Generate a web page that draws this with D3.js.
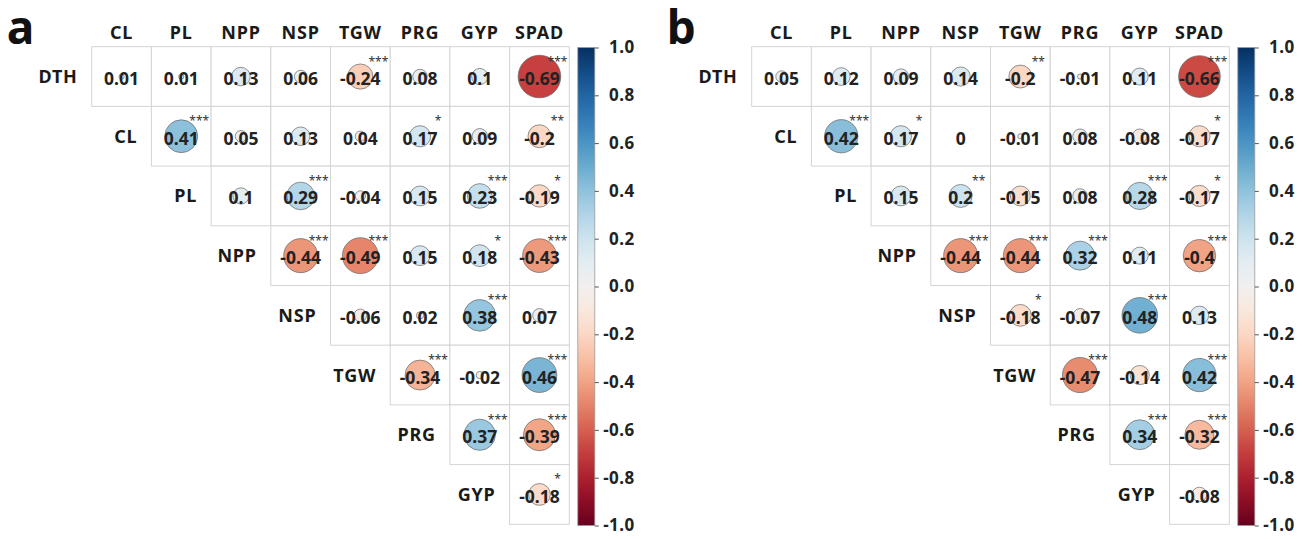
<!DOCTYPE html>
<html>
<head>
    <meta charset="utf-8">
    <title>Correlation matrices</title>
    <script src="https://d3js.org/d3.v7.min.js"></script>
    <style>
        body { margin: 0; background: #fff; }
        text { font-family: "Noto Sans", "Open Sans", sans-serif; }
    </style>
</head>
<body>
    <svg width="1303" height="539"></svg>

    <script>
        // traits: rows are the first 8, columns the last 8 (upper triangle without diagonal)
        var rowNames = ["DTH", "CL", "PL", "NPP", "NSP", "TGW", "PRG", "GYP"];
        var colNames = ["CL", "PL", "NPP", "NSP", "TGW", "PRG", "GYP", "SPAD"];

        // panel a, row i starts at column i
        var valuesA = [
            [0.01, 0.01, 0.13, 0.06, -0.24, 0.08, 0.1, -0.69],
            [0.41, 0.05, 0.13, 0.04, 0.17, 0.09, -0.2],
            [0.1, 0.29, -0.04, 0.15, 0.23, -0.19],
            [-0.44, -0.49, 0.15, 0.18, -0.43],
            [-0.06, 0.02, 0.38, 0.07],
            [-0.34, -0.02, 0.46],
            [0.37, -0.39],
            [-0.18]
        ];
        var starsA = [
            ["", "", "", "", "***", "", "", "***"],
            ["***", "", "", "", "*", "", "**"],
            ["", "***", "", "", "***", "*"],
            ["***", "***", "", "*", "***"],
            ["", "", "***", ""],
            ["***", "", "***"],
            ["***", "***"],
            ["*"]
        ];

        // panel b
        var valuesB = [
            [0.05, 0.12, 0.09, 0.14, -0.2, -0.01, 0.11, -0.66],
            [0.42, 0.17, 0, -0.01, 0.08, -0.08, -0.17],
            [0.15, 0.2, -0.15, 0.08, 0.28, -0.17],
            [-0.44, -0.44, 0.32, 0.11, -0.4],
            [-0.18, -0.07, 0.48, 0.13],
            [-0.47, -0.14, 0.42],
            [0.34, -0.32],
            [-0.08]
        ];
        var starsB = [
            ["", "", "", "", "**", "", "", "***"],
            ["***", "*", "", "", "", "", "*"],
            ["", "**", "", "", "***", "*"],
            ["***", "***", "***", "", "***"],
            ["*", "", "***", ""],
            ["***", "", "***"],
            ["***", "***"],
            [""]
        ];

        var legendTicks = [-1, -0.8, -0.6, -0.4, -0.2, 0, 0.2, 0.4, 0.6, 0.8, 1];

        var svg = d3.select("svg");
        var cell = 59.7;
        var top0 = 46.7;

        var color = function(v) { return d3.interpolateRdBu((v + 1) / 2); };

        function drawPanel(letter, left, values, stars) {
            var g = svg.append("g");

            var x = d3.scaleBand().domain(colNames).range([left, left + 8 * cell]);
            var y = d3.scaleBand().domain(rowNames).range([top0, top0 + 8 * cell]);
            var r = d3.scaleSqrt().domain([0, 1]).range([0, 0.43 * cell]);

            var cells = [];
            values.forEach(function(row, i) {
                row.forEach(function(v, k) {
                    cells.push({ row: rowNames[i], col: colNames[i + k], v: v, s: stars[i][k] });
                });
            });

            g.append("text")
                .attr("x", left - 85)
                .attr("y", 44)
                .attr("font-size", "46px")
                .attr("font-weight", "bold")
                .attr("fill", "#111")
                .text(letter);

            // column headers
            g.selectAll(".colLab")
                .data(colNames)
                .enter().append("text")
                .attr("x", function(d) { return x(d) + x.bandwidth() / 2; })
                .attr("y", 39)
                .attr("text-anchor", "middle")
                .attr("font-size", "18px")
                .attr("font-weight", "bold")
                .attr("letter-spacing", "0.8px")
                .attr("fill", "#1a1a1a")
                .text(function(d) { return d; });

            // row headers, sitting left of each row's first cell
            g.selectAll(".rowLab")
                .data(rowNames)
                .enter().append("text")
                .attr("x", function(d, i) { return x(colNames[i]) - 14; })
                .attr("y", function(d) { return y(d) + y.bandwidth() / 2 + 6.5; })
                .attr("text-anchor", "end")
                .attr("font-size", "18px")
                .attr("font-weight", "bold")
                .attr("letter-spacing", "0.8px")
                .attr("fill", "#1a1a1a")
                .text(function(d) { return d; });

            var c = g.selectAll(".cell")
                .data(cells)
                .enter().append("g")
                .attr("transform", function(d) {
                    return "translate(" + (x(d.col) + x.bandwidth() / 2) + "," + (y(d.row) + y.bandwidth() / 2) + ")";
                });

            c.append("rect")
                .attr("x", -cell / 2)
                .attr("y", -cell / 2)
                .attr("width", cell)
                .attr("height", cell)
                .attr("fill", "#fff")
                .attr("stroke", "#d4d4d4")
                .attr("stroke-width", 1);

            c.append("circle")
                .attr("r", function(d) { return r(Math.abs(d.v)); })
                .attr("fill", function(d) { return color(d.v); })
                .attr("stroke", "#666")
                .attr("stroke-width", 0.7);

            c.append("text")
                .attr("y", 1.5)
                .attr("dominant-baseline", "central")
                .attr("text-anchor", "middle")
                .attr("font-size", "17.5px")
                .attr("font-weight", "bold")
                .attr("fill", "#222")
                .text(function(d) { return String(d.v); });

            c.append("text")
                .attr("x", 18)
                .attr("y", -11)
                .attr("text-anchor", "middle")
                .attr("font-size", "12px")
                .attr("fill", "#333")
                .text(function(d) { return d.s; });

            // colour bar
            var barX = left + 8 * cell + 8.5;
            var barW = 17;
            var ly = d3.scaleLinear().domain([-1, 1]).range([525.5, 47.5]);

            var gradId = "grad" + letter;
            var grad = svg.append("defs").append("linearGradient")
                .attr("id", gradId)
                .attr("x1", 0).attr("y1", 1).attr("x2", 0).attr("y2", 0);
            d3.range(0, 1.001, 0.05).forEach(function(t) {
                grad.append("stop")
                    .attr("offset", t)
                    .attr("stop-color", d3.interpolateRdBu(t));
            });

            g.append("rect")
                .attr("x", barX)
                .attr("y", ly(1))
                .attr("width", barW)
                .attr("height", ly(-1) - ly(1))
                .attr("fill", "url(#" + gradId + ")")
                .attr("stroke", "#999")
                .attr("stroke-width", 0.8);

            var axis = g.append("g")
                .attr("transform", "translate(" + (barX + barW) + ",0)")
                .call(d3.axisRight(ly)
                    .tickValues(legendTicks)
                    .tickSize(4)
                    .tickFormat(function(d) { return d.toFixed(1); }));
            axis.select(".domain").remove();
            axis.selectAll(".tick line").attr("stroke", "#555");
            axis.selectAll(".tick text")
                .attr("x", 40)
                .attr("text-anchor", "end")
                .attr("font-size", "17px")
                .attr("font-weight", "bold")
                .attr("letter-spacing", "0.5px")
                .attr("font-family", "Noto Sans, sans-serif")
                .attr("fill", "#222");
        }

        drawPanel("a", 91.7, valuesA, starsA);
        drawPanel("b", 751.7, valuesB, starsB);
    </script>
</body>
</html>
